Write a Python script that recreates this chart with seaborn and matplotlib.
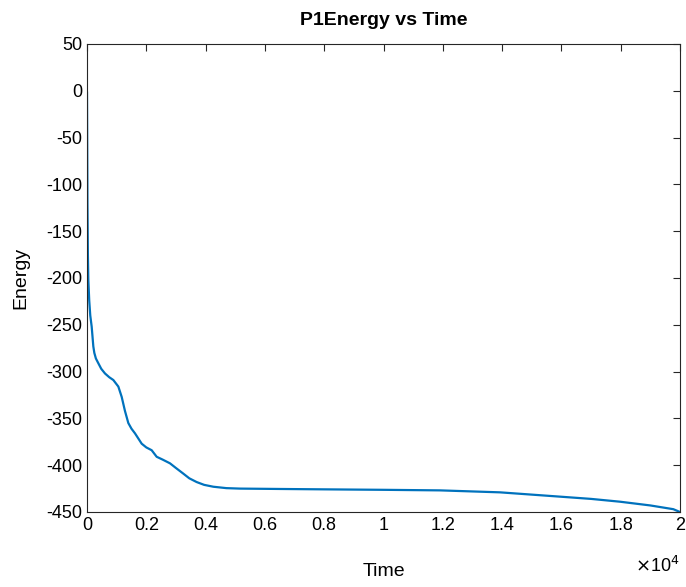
import matplotlib
matplotlib.use("Agg")
import matplotlib.pyplot as plt
import seaborn as sns
import pandas as pd

time = [0, 15, 30, 45, 75, 110, 158, 213, 247, 300, 381, 480, 607, 750, 888, 1057, 1170,
        1280, 1394, 1500, 1619, 1844, 2000, 2181, 2350, 2550, 2799, 3000, 3248, 3450,
        3698, 3950, 4260, 4700, 5160, 6509, 8000, 10000, 11906, 13929, 15953, 17000,
        17976, 19000, 19775, 20000]
energy = [-1, -120, -175, -202, -224, -240, -252, -273, -280, -286, -291, -297, -302, -306,
          -309, -316, -327, -342, -355, -361, -366, -377, -381, -384, -391, -394, -398,
          -403, -409, -414, -418, -421, -423, -424.5, -425, -425.4, -425.8, -426.3,
          -426.9, -429, -433.6, -436, -439, -443, -447, -450]
xticks = [0, 2000, 4000, 6000, 8000, 10000, 12000, 14000, 16000, 18000, 20000]
xticklabels = ["0", "0.2", "0.4", "0.6", "0.8", "1", "1.2", "1.4", "1.6", "1.8", "2"]
yticks = [50, 0, -50, -100, -150, -200, -250, -300, -350, -400, -450]

df = pd.DataFrame({"Time": time, "Energy": energy})

sns.set_style("white")
plt.rcParams["font.family"] = ["Liberation Sans", "DejaVu Sans"]
plt.rcParams["text.color"] = "black"
plt.rcParams["axes.labelcolor"] = "black"

fig = plt.figure(figsize=(6.86, 5.87), dpi=100)
ax = fig.add_axes([87/686, 75/587, 593/686, 468/587])
sns.lineplot(data=df, x="Time", y="Energy", ax=ax, color="#0072BD", linewidth=1.6)

ax.set_xlim(0, 20000)
ax.set_ylim(-450, 50)
ax.set_xticks(xticks)
ax.set_xticklabels(xticklabels)
ax.set_yticks(yticks)
ax.set_yticklabels([str(v) for v in yticks])
ax.tick_params(direction="in", top=True, right=True, length=5, width=0.8,
               colors="#262626", labelsize=13, labelcolor="black")
for s in ax.spines.values():
    s.set_visible(True)
    s.set_color("#262626")
    s.set_linewidth(0.8)

ax.set_xlabel("Time", fontsize=14, color="black")
ax.set_ylabel("Energy", fontsize=14, color="black")
ax.xaxis.set_label_coords(0.5, -0.108)
ax.yaxis.set_label_coords(-0.098, 0.5)
ax.set_title("P1Energy vs Time", fontsize=14, fontweight="bold", pad=14, color="black")
ax.text(1.0, -0.115, r"$\times$10$^{4}$", transform=ax.transAxes, ha="right",
        va="center", fontsize=13, color="black")

fig.savefig("out.png", dpi=100)
